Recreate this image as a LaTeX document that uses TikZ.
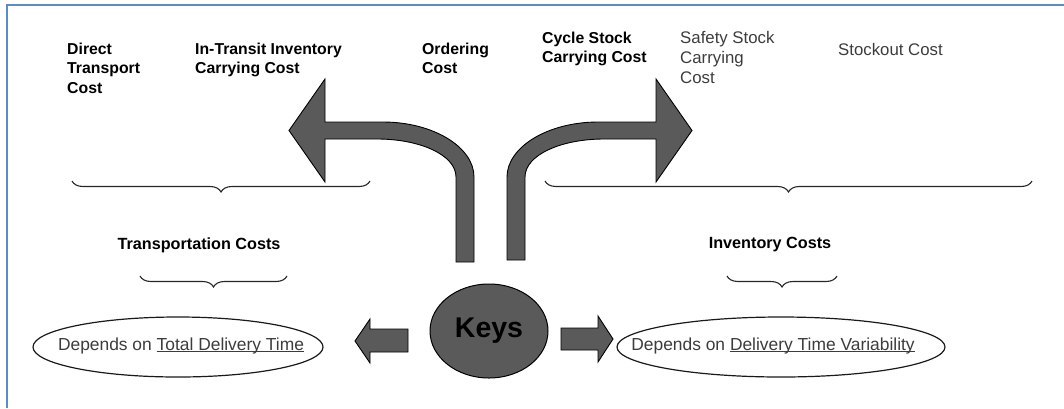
\documentclass[tikz,border=0pt]{standalone}
\usepackage{fontspec}
\setmainfont{Liberation Sans}
\usetikzlibrary{shapes.geometric,decorations.pathreplacing}
\definecolor{frameblue}{HTML}{5B8BCB}
\definecolor{arrowgray}{HTML}{5A5A5A}
\definecolor{textgray}{HTML}{3C3C3C}
% underline drawn just below the baseline
\newcommand\undl[1]{\setbox0\hbox{#1}\rlap{\rule[-2.3pt]{\wd0}{1.3pt}}\box0}
\tikzset{
  toplabel/.style={anchor=north west, inner sep=0, align=left,
    font=\fontsize{15.8}{19.5}\selectfont\bfseries},
  toplight/.style={anchor=north west, inner sep=0, align=left, text=textgray,
    font=\fontsize{16.8}{20}\selectfont},
  grouplabel/.style={inner sep=0, font=\fontsize{16.2}{19}\selectfont\bfseries},
  bracket/.style={draw=black!85, line width=1.1pt, decorate,
    decoration={brace, mirror, amplitude=11pt}},
  blockarrow/.style={fill=arrowgray, draw=black, line width=0.9pt, line join=miter},
  oval/.style={ellipse, draw=black!90, line width=1.2pt, inner sep=0},
  ovaltext/.style={anchor=base, inner sep=0, text=textgray,
    font=\fontsize{17.4}{20}\selectfont},
  hub/.style={ellipse, fill=arrowgray, draw=black, line width=1pt, inner sep=0,
    minimum width=118pt, minimum height=94pt,
    font=\fontsize{28.5}{30}\selectfont\bfseries}
}
\begin{document}
\begin{tikzpicture}[x=1pt,y=-1pt]
\useasboundingbox (0,0) rectangle (1064,408);
% frame
\draw[frameblue, line width=1.5pt] (7,408) -- (7,5) -- (1064,5);

% cost items
\node[toplabel] (direct) at (67,42.5) {Direct\\Transport\\Cost};
\node[toplabel] (transit) at (195,42.5) {In-Transit Inventory\\Carrying Cost};
\node[toplabel] (ordering) at (422,42.5) {Ordering\\Cost};
\node[toplabel] (cycle) at (542,31.5) {Cycle Stock\\Carrying Cost};
\node[toplight] (safety) at (680,31) {Safety Stock\\Carrying\\Cost};
\node[toplight] (stockout) at (838,43) {Stockout Cost};

% bent arrows
\draw[blockarrow] (456,262) -- (456,177) .. controls (456,155) and (420,139) .. (377,139)
  -- (325,139) -- (325,182) -- (289,130.5) -- (325,79) -- (325,122) -- (383,122)
  .. controls (433,122) and (474,147) .. (474,177) -- (474,262) -- cycle;
\draw[blockarrow] (525,260) -- (525,177) .. controls (525,155) and (561,139) .. (604,139)
  -- (656,139) -- (656,182) -- (692,130.5) -- (656,79) -- (656,122) -- (598,122)
  .. controls (548,122) and (507,147) .. (507,177) -- (507,260) -- cycle;

% braces
\draw[bracket] (72,181) -- (370,181);
\draw[bracket] (545,181) -- (1032,181);
\node[grouplabel] (transport) at (199,245) {Transportation Costs};
\node[grouplabel] (inventory) at (770,245) {Inventory Costs};
\draw[bracket] (140,276) -- (287,276);
\draw[bracket] (727,276) -- (837,276);

% centre and dependencies
\node[hub] (keys) at (489,331) {Keys};
\node[oval, minimum width=290pt, minimum height=60pt] (total) at (178,347) {};
\node[oval, minimum width=328pt, minimum height=60pt] (variab) at (781,347) {};
\node[ovaltext] (totaltext) at (181,350) {Depends on \undl{Total Delivery Time}};
\node[ovaltext] (variabtext) at (773,350) {Depends on \undl{Delivery Time Variability}};

% small block arrows
\draw[blockarrow] (408,329) -- (370,329) -- (370,319) -- (355,341) -- (370,363)
  -- (370,352) -- (408,352) -- cycle;
\draw[blockarrow] (561,328) -- (598,328) -- (598,316) -- (613,339) -- (598,362)
  -- (598,350) -- (561,350) -- cycle;
\end{tikzpicture}
\end{document}
